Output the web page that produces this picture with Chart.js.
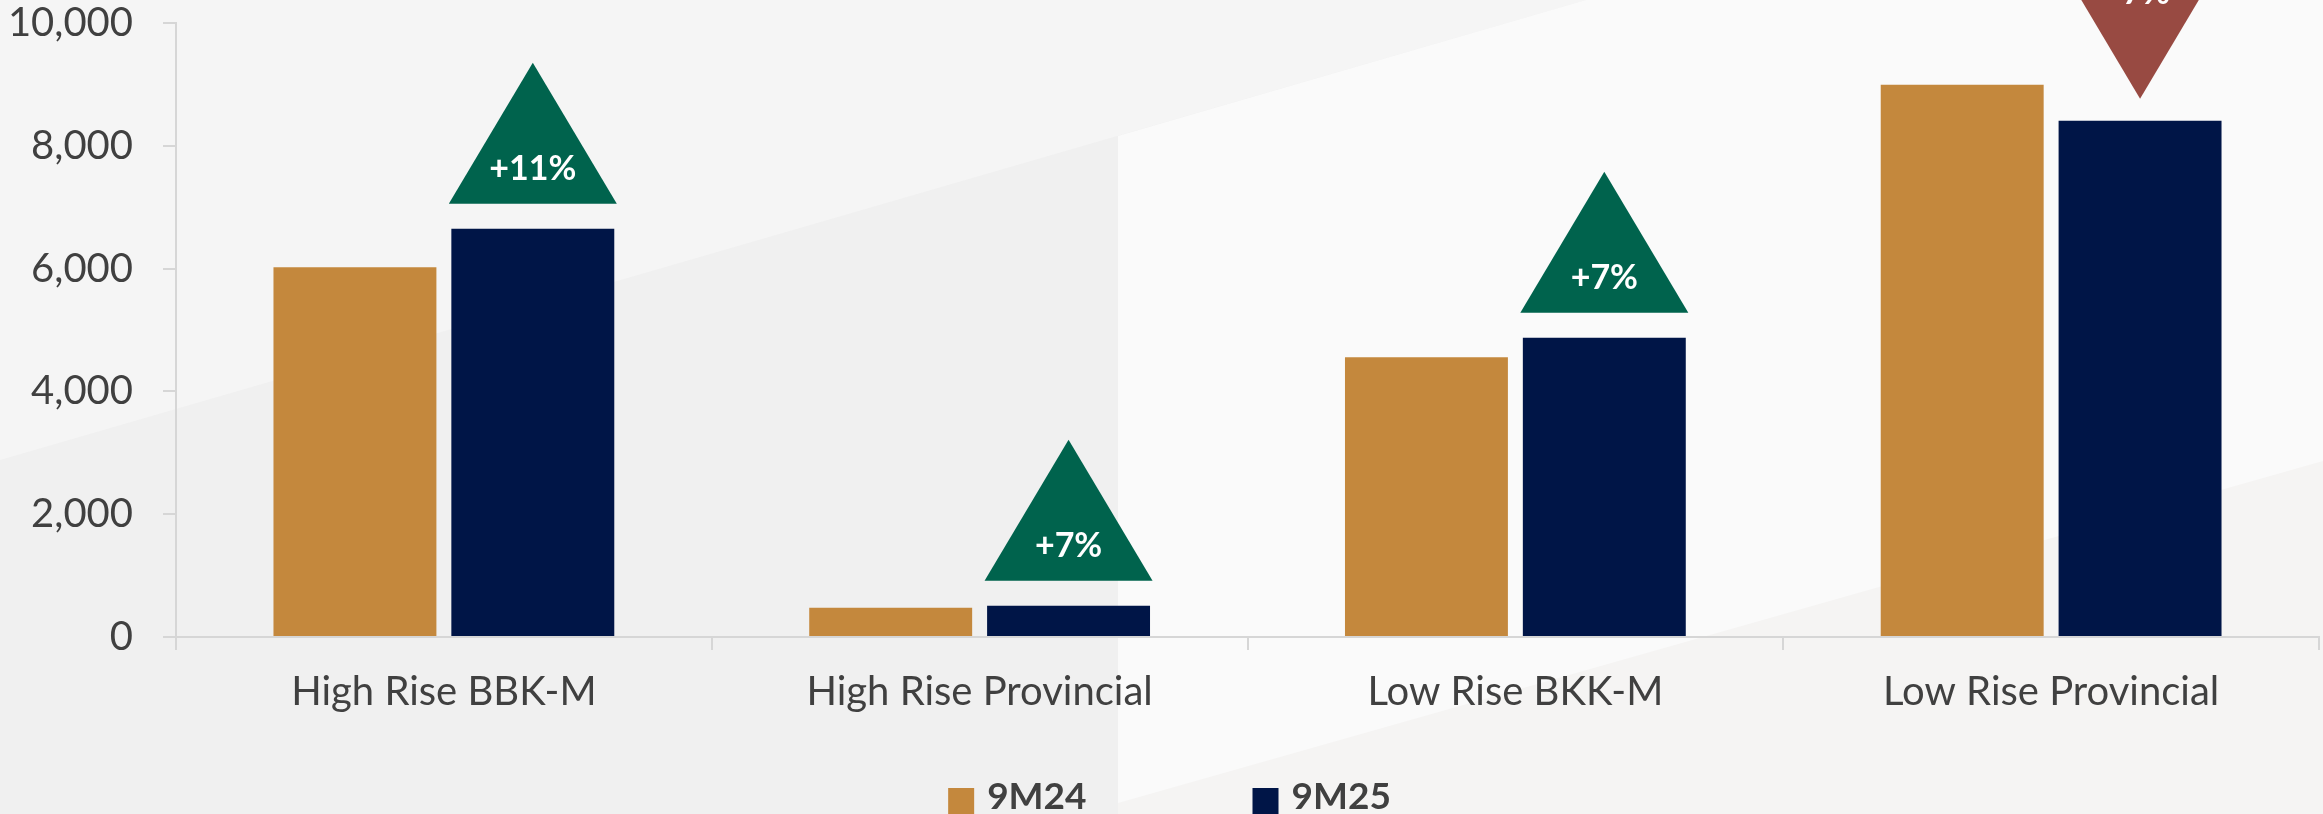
<!DOCTYPE html>
<html lang="en">
<head>
  <meta charset="UTF-8" />
  <title>9M24 vs 9M25</title>
  <script src="https://cdn.jsdelivr.net/npm/chart.js"></script>
  <style>
    html, body {
      margin: 0;
      padding: 0;
      background: #f0f0f0;
      overflow: hidden;
    }
    #wrap {
      width: 2323px;
      height: 814px;
      position: relative;
    }
  </style>
</head>
<body>
  <div id="wrap"><canvas id="grafico"></canvas></div>

  <script>
    const categorias = ["High Rise BBK-M", "High Rise Provincial", "Low Rise BKK-M", "Low Rise Provincial"];
    const series = ["9M24", "9M25"];
    const valores9M24 = [6020, 477, 4555, 8995];
    const valores9M25 = [6650, 510, 4875, 8410];
    const cambios = [11, 7, 7, -7];
    const ticksY = [0, 2000, 4000, 6000, 8000, 10000];

    const colores = ["#c4883d", "#001547"];
    const FUENTE = "Lato, 'Noto Sans', sans-serif";

    // fondo con las franjas diagonales
    const fondo = {
      id: "fondo",
      beforeDraw(chart) {
        const c = chart.ctx;
        const w = chart.width, h = chart.height;
        c.save();
        c.fillStyle = "#f0f0f0";
        c.fillRect(0, 0, w, h);
        c.fillStyle = "#f5f5f5";
        c.beginPath();
        c.moveTo(0, 0); c.lineTo(1586, 0); c.lineTo(0, 460);
        c.closePath(); c.fill();
        c.fillStyle = "#fafafa";
        c.beginPath();
        c.moveTo(1118, 136); c.lineTo(1586, 0); c.lineTo(w, 0); c.lineTo(w, h); c.lineTo(1118, h);
        c.closePath(); c.fill();
        c.fillStyle = "#f5f4f3";
        c.beginPath();
        c.moveTo(1118, 803); c.lineTo(w, 461); c.lineTo(w, h); c.lineTo(1118, h);
        c.closePath(); c.fill();
        c.restore();
      }
    };

    // triangulos de variacion sobre las barras 9M25
    const triangulos = {
      id: "triangulos",
      afterDatasetsDraw(chart) {
        const c = chart.ctx;
        const meta = chart.getDatasetMeta(1);
        const ancho = 168, alto = 141;
        c.save();
        meta.data.forEach((bar, i) => {
          const v = cambios[i];
          const x = bar.x;
          let base, punta, yTexto;
          if (v >= 0) {
            base = bar.y - 25;
            punta = base - alto;
            yTexto = base - 35;
            c.fillStyle = "#00634d";
          } else {
            punta = bar.y - 22;
            base = punta - alto;
            yTexto = base + 35;
            c.fillStyle = "#984a42";
          }
          c.beginPath();
          c.moveTo(x - ancho / 2, base);
          c.lineTo(x + ancho / 2, base);
          c.lineTo(x, punta);
          c.closePath();
          c.fill();
          c.fillStyle = "#ffffff";
          c.font = "bold 34px " + FUENTE;
          c.textAlign = "center";
          c.textBaseline = "middle";
          c.fillText((v >= 0 ? "+" : "-") + Math.abs(v) + "%", x, yTexto);
        });
        c.restore();
      }
    };

    // leyenda abajo, centrada
    const leyenda = {
      id: "leyenda",
      afterDraw(chart) {
        const c = chart.ctx;
        c.save();
        c.font = "bold 37px " + FUENTE;
        c.textBaseline = "middle";
        const caja = 26, sep = 13, hueco = 166;
        const anchos = chart.data.datasets.map(d => caja + sep + c.measureText(d.label).width);
        const total = anchos.reduce((a, b) => a + b, 0) + hueco * (anchos.length - 1);
        let x = chart.width / 2 - total / 2 + 8;
        chart.data.datasets.forEach((d, i) => {
          c.fillStyle = d.backgroundColor;
          c.fillRect(x, 788, caja, caja);
          c.fillStyle = "#404040";
          c.fillText(d.label, x + caja + sep, 797);
          x += anchos[i] + hueco;
        });
        c.restore();
      }
    };

    new Chart(document.getElementById("grafico"), {
      type: "bar",
      data: {
        labels: categorias,
        datasets: [
          { label: series[0], data: valores9M24, backgroundColor: colores[0], borderWidth: 0 },
          { label: series[1], data: valores9M25, backgroundColor: colores[1], borderWidth: 0 }
        ]
      },
      options: {
        responsive: true,
        maintainAspectRatio: false,
        devicePixelRatio: 1,
        animation: false,
        categoryPercentage: 0.664,
        barPercentage: 0.916,
        layout: { padding: 0 },
        plugins: {
          legend: { display: false },
          tooltip: { enabled: false }
        },
        scales: {
          x: {
            afterFit(s) { s.height = 177; s.paddingLeft = 0; s.paddingRight = 4; },
            grid: { drawOnChartArea: false, tickLength: 13, color: "#d6d6d6", lineWidth: 2 },
            border: { color: "#d6d6d6", width: 2 },
            ticks: { color: "#404040", padding: 18, font: { family: FUENTE, size: 40 } }
          },
          y: {
            min: 0,
            max: 10000,
            afterFit(s) { s.width = 176; s.paddingTop = 23; s.paddingBottom = 0; },
            afterBuildTicks(s) { s.ticks = ticksY.map(v => ({ value: v })); },
            grid: { drawOnChartArea: false, tickLength: 13, color: "#d6d6d6", lineWidth: 2 },
            border: { color: "#d6d6d6", width: 2 },
            ticks: {
              color: "#404040",
              padding: 30,
              font: { family: FUENTE, size: 40 },
              callback: v => v.toLocaleString("en-US")
            }
          }
        }
      },
      plugins: [fondo, triangulos, leyenda]
    });
  </script>
</body>
</html>
